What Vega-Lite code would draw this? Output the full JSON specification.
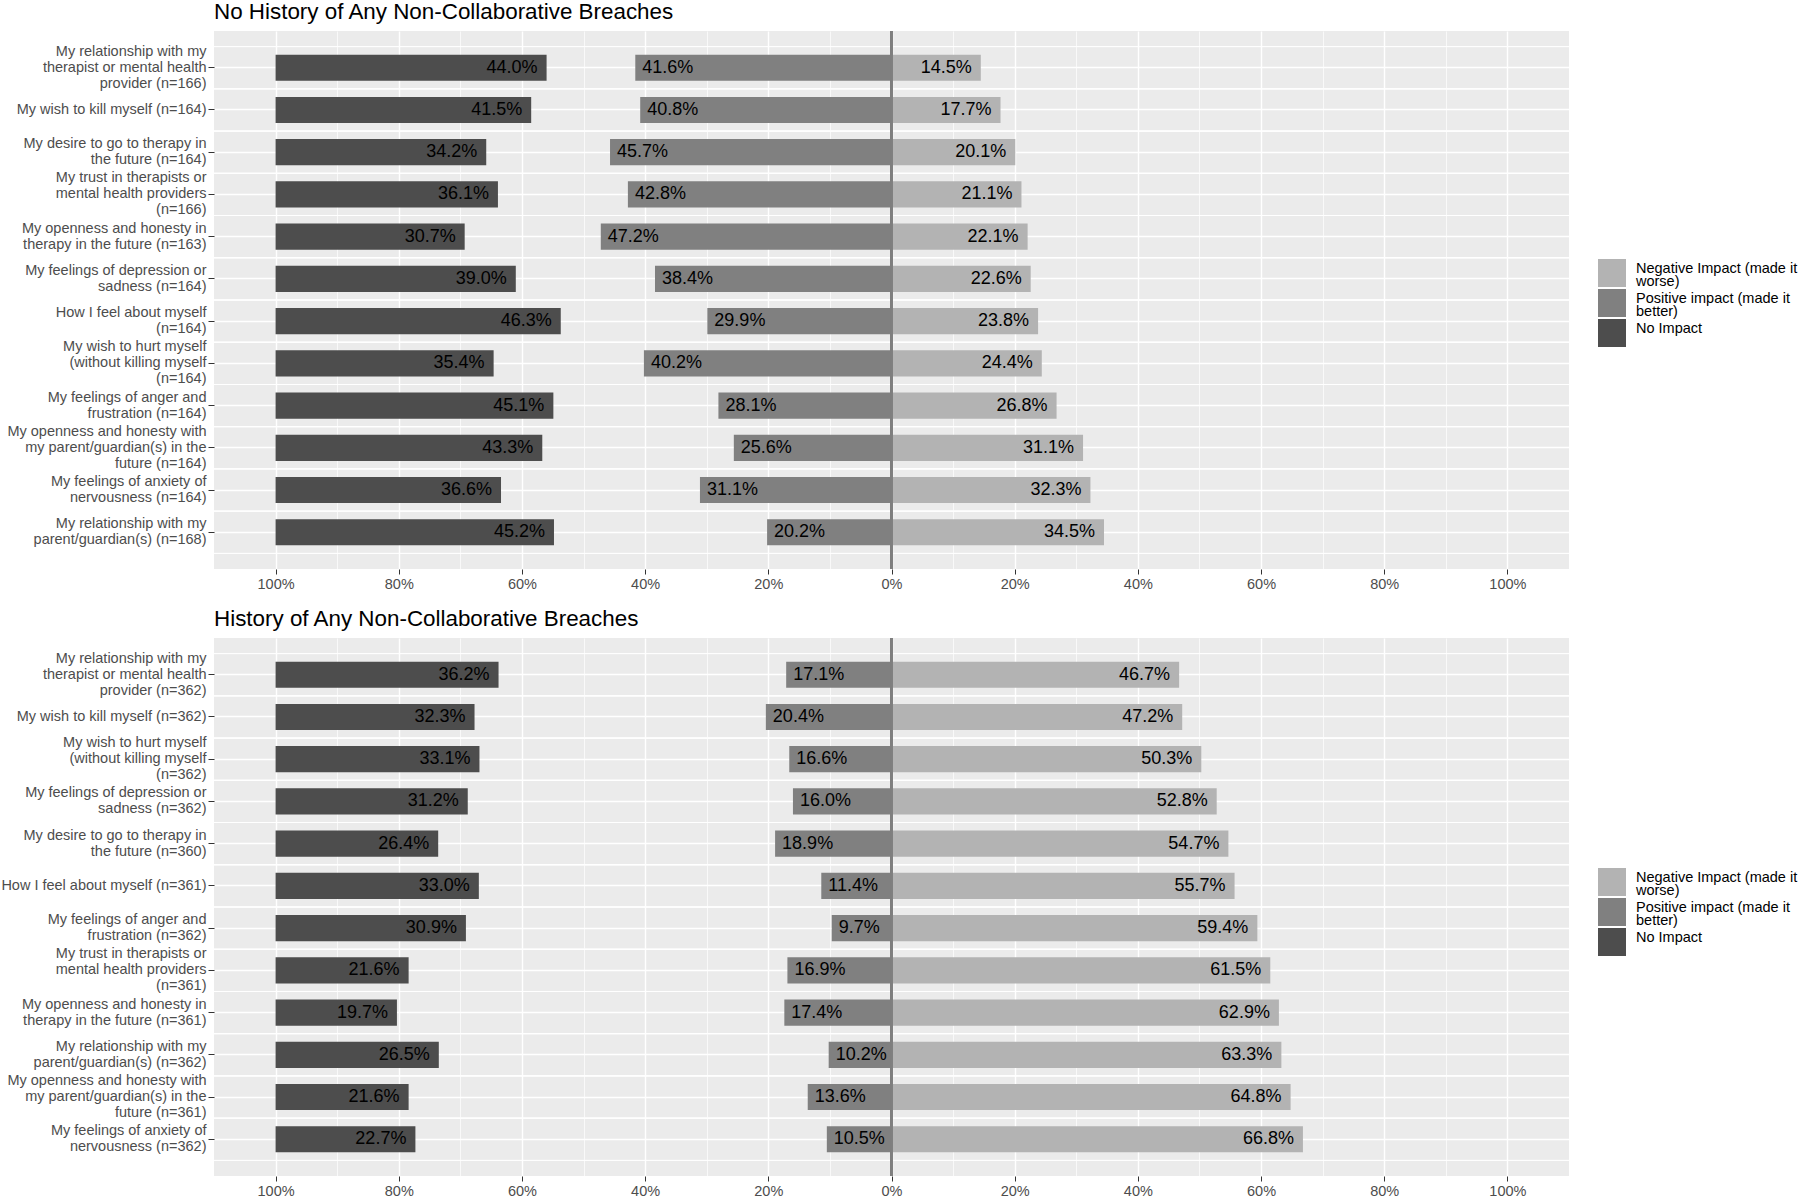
{
  "$schema": "https://vega.github.io/schema/vega-lite/v6.json",
  "padding": {"left": 0, "top": 0, "right": 0, "bottom": 0},
  "background": "white",
  "config": {
    "font": "Liberation Sans",
    "view": {"fill": "#EBEBEB", "stroke": null},
    "axis": {"domain": false, "labelFont": "Liberation Sans", "labelColor": "#4D4D4D", "tickColor": "#333333", "gridColor": "#FFFFFF"},
    "style": {"guide-label": {"lineHeight": 13}},
    "title": {"font": "Liberation Sans", "fontSize": 22.4, "fontWeight": "normal", "color": "#000000", "anchor": "start", "frame": "group", "offset": 7}
  },
  "datasets": {
    "rows": [
      {"p":"A","r":1,"item":"My relationship with my|therapist or mental health|provider  (n=166)","cat":"No Impact","v":44.0},
      {"p":"A","r":1,"item":"My relationship with my|therapist or mental health|provider  (n=166)","cat":"Positive impact (made it|better)","v":41.6},
      {"p":"A","r":1,"item":"My relationship with my|therapist or mental health|provider  (n=166)","cat":"Negative Impact (made it|worse)","v":14.5},
      {"p":"A","r":2,"item":"My wish to kill myself (n=164)","cat":"No Impact","v":41.5},
      {"p":"A","r":2,"item":"My wish to kill myself (n=164)","cat":"Positive impact (made it|better)","v":40.8},
      {"p":"A","r":2,"item":"My wish to kill myself (n=164)","cat":"Negative Impact (made it|worse)","v":17.7},
      {"p":"A","r":3,"item":"My desire to go to therapy in|the future (n=164)","cat":"No Impact","v":34.2},
      {"p":"A","r":3,"item":"My desire to go to therapy in|the future (n=164)","cat":"Positive impact (made it|better)","v":45.7},
      {"p":"A","r":3,"item":"My desire to go to therapy in|the future (n=164)","cat":"Negative Impact (made it|worse)","v":20.1},
      {"p":"A","r":4,"item":"My trust in therapists or|mental health providers|(n=166)","cat":"No Impact","v":36.1},
      {"p":"A","r":4,"item":"My trust in therapists or|mental health providers|(n=166)","cat":"Positive impact (made it|better)","v":42.8},
      {"p":"A","r":4,"item":"My trust in therapists or|mental health providers|(n=166)","cat":"Negative Impact (made it|worse)","v":21.1},
      {"p":"A","r":5,"item":"My openness and honesty in|therapy in the future (n=163)","cat":"No Impact","v":30.7},
      {"p":"A","r":5,"item":"My openness and honesty in|therapy in the future (n=163)","cat":"Positive impact (made it|better)","v":47.2},
      {"p":"A","r":5,"item":"My openness and honesty in|therapy in the future (n=163)","cat":"Negative Impact (made it|worse)","v":22.1},
      {"p":"A","r":6,"item":"My feelings of depression or|sadness (n=164)","cat":"No Impact","v":39.0},
      {"p":"A","r":6,"item":"My feelings of depression or|sadness (n=164)","cat":"Positive impact (made it|better)","v":38.4},
      {"p":"A","r":6,"item":"My feelings of depression or|sadness (n=164)","cat":"Negative Impact (made it|worse)","v":22.6},
      {"p":"A","r":7,"item":"How I feel about myself|(n=164)","cat":"No Impact","v":46.3},
      {"p":"A","r":7,"item":"How I feel about myself|(n=164)","cat":"Positive impact (made it|better)","v":29.9},
      {"p":"A","r":7,"item":"How I feel about myself|(n=164)","cat":"Negative Impact (made it|worse)","v":23.8},
      {"p":"A","r":8,"item":"My wish to hurt myself|(without killing myself|(n=164)","cat":"No Impact","v":35.4},
      {"p":"A","r":8,"item":"My wish to hurt myself|(without killing myself|(n=164)","cat":"Positive impact (made it|better)","v":40.2},
      {"p":"A","r":8,"item":"My wish to hurt myself|(without killing myself|(n=164)","cat":"Negative Impact (made it|worse)","v":24.4},
      {"p":"A","r":9,"item":"My feelings of anger and|frustration (n=164)","cat":"No Impact","v":45.1},
      {"p":"A","r":9,"item":"My feelings of anger and|frustration (n=164)","cat":"Positive impact (made it|better)","v":28.1},
      {"p":"A","r":9,"item":"My feelings of anger and|frustration (n=164)","cat":"Negative Impact (made it|worse)","v":26.8},
      {"p":"A","r":10,"item":"My openness and honesty with|my parent/guardian(s) in the|future (n=164)","cat":"No Impact","v":43.3},
      {"p":"A","r":10,"item":"My openness and honesty with|my parent/guardian(s) in the|future (n=164)","cat":"Positive impact (made it|better)","v":25.6},
      {"p":"A","r":10,"item":"My openness and honesty with|my parent/guardian(s) in the|future (n=164)","cat":"Negative Impact (made it|worse)","v":31.1},
      {"p":"A","r":11,"item":"My feelings of anxiety of|nervousness  (n=164)","cat":"No Impact","v":36.6},
      {"p":"A","r":11,"item":"My feelings of anxiety of|nervousness  (n=164)","cat":"Positive impact (made it|better)","v":31.1},
      {"p":"A","r":11,"item":"My feelings of anxiety of|nervousness  (n=164)","cat":"Negative Impact (made it|worse)","v":32.3},
      {"p":"A","r":12,"item":"My relationship with my|parent/guardian(s) (n=168)","cat":"No Impact","v":45.2},
      {"p":"A","r":12,"item":"My relationship with my|parent/guardian(s) (n=168)","cat":"Positive impact (made it|better)","v":20.2},
      {"p":"A","r":12,"item":"My relationship with my|parent/guardian(s) (n=168)","cat":"Negative Impact (made it|worse)","v":34.5},

      {"p":"B","r":1,"item":"My relationship with my|therapist or mental health|provider  (n=362)","cat":"No Impact","v":36.2},
      {"p":"B","r":1,"item":"My relationship with my|therapist or mental health|provider  (n=362)","cat":"Positive impact (made it|better)","v":17.1},
      {"p":"B","r":1,"item":"My relationship with my|therapist or mental health|provider  (n=362)","cat":"Negative Impact (made it|worse)","v":46.7},
      {"p":"B","r":2,"item":"My wish to kill myself (n=362)","cat":"No Impact","v":32.3},
      {"p":"B","r":2,"item":"My wish to kill myself (n=362)","cat":"Positive impact (made it|better)","v":20.4},
      {"p":"B","r":2,"item":"My wish to kill myself (n=362)","cat":"Negative Impact (made it|worse)","v":47.2},
      {"p":"B","r":3,"item":"My wish to hurt myself|(without killing myself|(n=362)","cat":"No Impact","v":33.1},
      {"p":"B","r":3,"item":"My wish to hurt myself|(without killing myself|(n=362)","cat":"Positive impact (made it|better)","v":16.6},
      {"p":"B","r":3,"item":"My wish to hurt myself|(without killing myself|(n=362)","cat":"Negative Impact (made it|worse)","v":50.3},
      {"p":"B","r":4,"item":"My feelings of depression or|sadness (n=362)","cat":"No Impact","v":31.2},
      {"p":"B","r":4,"item":"My feelings of depression or|sadness (n=362)","cat":"Positive impact (made it|better)","v":16.0},
      {"p":"B","r":4,"item":"My feelings of depression or|sadness (n=362)","cat":"Negative Impact (made it|worse)","v":52.8},
      {"p":"B","r":5,"item":"My desire to go to therapy in|the future (n=360)","cat":"No Impact","v":26.4},
      {"p":"B","r":5,"item":"My desire to go to therapy in|the future (n=360)","cat":"Positive impact (made it|better)","v":18.9},
      {"p":"B","r":5,"item":"My desire to go to therapy in|the future (n=360)","cat":"Negative Impact (made it|worse)","v":54.7},
      {"p":"B","r":6,"item":"How I feel about myself (n=361)","cat":"No Impact","v":33.0},
      {"p":"B","r":6,"item":"How I feel about myself (n=361)","cat":"Positive impact (made it|better)","v":11.4},
      {"p":"B","r":6,"item":"How I feel about myself (n=361)","cat":"Negative Impact (made it|worse)","v":55.7},
      {"p":"B","r":7,"item":"My feelings of anger and|frustration  (n=362)","cat":"No Impact","v":30.9},
      {"p":"B","r":7,"item":"My feelings of anger and|frustration  (n=362)","cat":"Positive impact (made it|better)","v":9.7},
      {"p":"B","r":7,"item":"My feelings of anger and|frustration  (n=362)","cat":"Negative Impact (made it|worse)","v":59.4},
      {"p":"B","r":8,"item":"My trust in therapists or|mental health providers|(n=361)","cat":"No Impact","v":21.6},
      {"p":"B","r":8,"item":"My trust in therapists or|mental health providers|(n=361)","cat":"Positive impact (made it|better)","v":16.9},
      {"p":"B","r":8,"item":"My trust in therapists or|mental health providers|(n=361)","cat":"Negative Impact (made it|worse)","v":61.5},
      {"p":"B","r":9,"item":"My openness and honesty in|therapy in the future (n=361)","cat":"No Impact","v":19.7},
      {"p":"B","r":9,"item":"My openness and honesty in|therapy in the future (n=361)","cat":"Positive impact (made it|better)","v":17.4},
      {"p":"B","r":9,"item":"My openness and honesty in|therapy in the future (n=361)","cat":"Negative Impact (made it|worse)","v":62.9},
      {"p":"B","r":10,"item":"My relationship with my|parent/guardian(s) (n=362)","cat":"No Impact","v":26.5},
      {"p":"B","r":10,"item":"My relationship with my|parent/guardian(s) (n=362)","cat":"Positive impact (made it|better)","v":10.2},
      {"p":"B","r":10,"item":"My relationship with my|parent/guardian(s) (n=362)","cat":"Negative Impact (made it|worse)","v":63.3},
      {"p":"B","r":11,"item":"My openness and honesty with|my parent/guardian(s) in the|future (n=361)","cat":"No Impact","v":21.6},
      {"p":"B","r":11,"item":"My openness and honesty with|my parent/guardian(s) in the|future (n=361)","cat":"Positive impact (made it|better)","v":13.6},
      {"p":"B","r":11,"item":"My openness and honesty with|my parent/guardian(s) in the|future (n=361)","cat":"Negative Impact (made it|worse)","v":64.8},
      {"p":"B","r":12,"item":"My feelings of anxiety of|nervousness  (n=362)","cat":"No Impact","v":22.7},
      {"p":"B","r":12,"item":"My feelings of anxiety of|nervousness  (n=362)","cat":"Positive impact (made it|better)","v":10.5},
      {"p":"B","r":12,"item":"My feelings of anxiety of|nervousness  (n=362)","cat":"Negative Impact (made it|worse)","v":66.8}
    ]
  },
  "vconcat": [
    {
      "title": {"text": "No History of Any Non-Collaborative Breaches"},
      "width": 1355,
      "height": 538,
      "data": {"name": "rows"},
      "transform": [
        {"filter": "datum.p === 'A'"},
        {"calculate": "datum.cat === 'No Impact' ? -100 : (datum.cat === 'Positive impact (made it|better)' ? -datum.v : 0)", "as": "x0"},
        {"calculate": "datum.cat === 'No Impact' ? -100 + datum.v : (datum.cat === 'Positive impact (made it|better)' ? 0 : datum.v)", "as": "x1"},
        {"calculate": "format(datum.v, '.1f') + '%'", "as": "txt"}
      ],
      "layer": [
        {
          "mark": {"type": "rule", "color": "#FFFFFF", "strokeWidth": 0.7},
          "encoding": {
            "y": {"field": "item", "type": "nominal", "bandPosition": 0, "sort": {"field": "r", "op": "min"}, "scale": {"paddingInner": 0, "paddingOuter": 0.37},
              "axis": {"title": null, "labelExpr": "split(datum.label, '|')", "labelOffset": {"condition": [{"test": "length(split(datum.value, '|')) === 3", "value": -16}, {"test": "length(split(datum.value, '|')) === 2", "value": -8}], "value": 0}, "bandPosition": 0.5, "grid": true, "gridWidth": 1.4, "tickSize": 6, "labelPadding": 2, "labelFontSize": 14.5, "labelLineHeight": 16, "labelLimit": 400}}
          }
        },
        {
          "mark": {"type": "rule", "color": "#FFFFFF", "strokeWidth": 0.7},
          "encoding": {
            "y": {"field": "item", "type": "nominal", "bandPosition": 1, "sort": {"field": "r", "op": "min"},
              "axis": {"title": null, "labelExpr": "split(datum.label, '|')", "labelOffset": {"condition": [{"test": "length(split(datum.value, '|')) === 3", "value": -16}, {"test": "length(split(datum.value, '|')) === 2", "value": -8}], "value": 0}, "bandPosition": 0.5, "grid": true, "gridWidth": 1.4, "tickSize": 6, "labelPadding": 2, "labelFontSize": 14.5, "labelLineHeight": 16, "labelLimit": 400}}
          }
        },
        {
          "mark": {"type": "bar", "height": {"band": 0.62}},
          "encoding": {
            "y": {"field": "item", "type": "nominal", "sort": {"field": "r", "op": "min"},
              "axis": {"title": null, "labelExpr": "split(datum.label, '|')", "labelOffset": {"condition": [{"test": "length(split(datum.value, '|')) === 3", "value": -16}, {"test": "length(split(datum.value, '|')) === 2", "value": -8}], "value": 0}, "bandPosition": 0.5, "grid": true, "gridWidth": 1.4, "tickSize": 6, "labelPadding": 2, "labelFontSize": 14.5, "labelLineHeight": 16, "labelLimit": 400}},
            "x": {"field": "x0", "type": "quantitative", "scale": {"domain": [-110, 110], "nice": false, "zero": false},
              "axis": {"title": null, "values": [-100,-90,-80,-70,-60,-50,-40,-30,-20,-10,0,10,20,30,40,50,60,70,80,90,100], "labelExpr": "datum.value % 20 === 0 ? format(abs(datum.value) / 100, '.0%') : ''", "grid": true, "gridWidth": {"condition": {"test": "datum.value % 20 === 0", "value": 1.4}, "value": 0.7}, "tickOpacity": {"condition": {"test": "datum.value % 20 === 0", "value": 1}, "value": 0}, "tickSize": 5, "labelPadding": 3, "labelFontSize": 14.5, "labelOverlap": false, "labelFlush": false}},
            "x2": {"field": "x1"},
            "color": {"field": "cat", "type": "nominal",
              "scale": {"domain": ["Negative Impact (made it|worse)", "Positive impact (made it|better)", "No Impact"], "range": ["#B3B3B3", "#808080", "#4D4D4D"]},
              "legend": {"title": null, "orient": "none", "legendX": 1384, "legendY": 228, "symbolType": "square", "symbolSize": 784, "symbolStrokeWidth": 0, "labelFontSize": 14.5, "labelColor": "#000000", "labelBaseline": "alphabetic", "labelExpr": "split(datum.label, '|')", "labelOffset": 10, "labelLimit": 300, "rowPadding": -1, "padding": 0}}
          }
        },
        {
          "mark": {"type": "rule", "color": "#7F7F7F", "strokeWidth": 1.6},
          "encoding": {"x": {"datum": 0, "type": "quantitative"}}
        },
        {
          "transform": [{"filter": "datum.cat === 'Positive impact (made it|better)'"}],
          "mark": {"type": "text", "align": "left", "baseline": "middle", "dx": 7, "fontSize": 18, "color": "#000000"},
          "encoding": {
            "y": {"field": "item", "type": "nominal", "sort": {"field": "r", "op": "min"},
              "axis": {"title": null, "labelExpr": "split(datum.label, '|')", "labelOffset": {"condition": [{"test": "length(split(datum.value, '|')) === 3", "value": -16}, {"test": "length(split(datum.value, '|')) === 2", "value": -8}], "value": 0}, "bandPosition": 0.5, "grid": true, "gridWidth": 1.4, "tickSize": 6, "labelPadding": 2, "labelFontSize": 14.5, "labelLineHeight": 16, "labelLimit": 400}},
            "x": {"field": "x0", "type": "quantitative"},
            "text": {"field": "txt"}
          }
        },
        {
          "transform": [{"filter": "datum.cat !== 'Positive impact (made it|better)'"}],
          "mark": {"type": "text", "align": "right", "baseline": "middle", "dx": -9, "fontSize": 18, "color": "#000000"},
          "encoding": {
            "y": {"field": "item", "type": "nominal", "sort": {"field": "r", "op": "min"},
              "axis": {"title": null, "labelExpr": "split(datum.label, '|')", "labelOffset": {"condition": [{"test": "length(split(datum.value, '|')) === 3", "value": -16}, {"test": "length(split(datum.value, '|')) === 2", "value": -8}], "value": 0}, "bandPosition": 0.5, "grid": true, "gridWidth": 1.4, "tickSize": 6, "labelPadding": 2, "labelFontSize": 14.5, "labelLineHeight": 16, "labelLimit": 400}},
            "x": {"field": "x1", "type": "quantitative"},
            "text": {"field": "txt"}
          }
        }
      ]
    },
    {
      "title": {"text": "History of Any Non-Collaborative Breaches"},
      "width": 1355,
      "height": 538,
      "data": {"name": "rows"},
      "transform": [
        {"filter": "datum.p === 'B'"},
        {"calculate": "datum.cat === 'No Impact' ? -100 : (datum.cat === 'Positive impact (made it|better)' ? -datum.v : 0)", "as": "x0"},
        {"calculate": "datum.cat === 'No Impact' ? -100 + datum.v : (datum.cat === 'Positive impact (made it|better)' ? 0 : datum.v)", "as": "x1"},
        {"calculate": "format(datum.v, '.1f') + '%'", "as": "txt"}
      ],
      "layer": [
        {
          "mark": {"type": "rule", "color": "#FFFFFF", "strokeWidth": 0.7},
          "encoding": {
            "y": {"field": "item", "type": "nominal", "bandPosition": 0, "sort": {"field": "r", "op": "min"}, "scale": {"paddingInner": 0, "paddingOuter": 0.37},
              "axis": {"title": null, "labelExpr": "split(datum.label, '|')", "labelOffset": {"condition": [{"test": "length(split(datum.value, '|')) === 3", "value": -16}, {"test": "length(split(datum.value, '|')) === 2", "value": -8}], "value": 0}, "bandPosition": 0.5, "grid": true, "gridWidth": 1.4, "tickSize": 6, "labelPadding": 2, "labelFontSize": 14.5, "labelLineHeight": 16, "labelLimit": 400}}
          }
        },
        {
          "mark": {"type": "rule", "color": "#FFFFFF", "strokeWidth": 0.7},
          "encoding": {
            "y": {"field": "item", "type": "nominal", "bandPosition": 1, "sort": {"field": "r", "op": "min"},
              "axis": {"title": null, "labelExpr": "split(datum.label, '|')", "labelOffset": {"condition": [{"test": "length(split(datum.value, '|')) === 3", "value": -16}, {"test": "length(split(datum.value, '|')) === 2", "value": -8}], "value": 0}, "bandPosition": 0.5, "grid": true, "gridWidth": 1.4, "tickSize": 6, "labelPadding": 2, "labelFontSize": 14.5, "labelLineHeight": 16, "labelLimit": 400}}
          }
        },
        {
          "mark": {"type": "bar", "height": {"band": 0.62}},
          "encoding": {
            "y": {"field": "item", "type": "nominal", "sort": {"field": "r", "op": "min"},
              "axis": {"title": null, "labelExpr": "split(datum.label, '|')", "labelOffset": {"condition": [{"test": "length(split(datum.value, '|')) === 3", "value": -16}, {"test": "length(split(datum.value, '|')) === 2", "value": -8}], "value": 0}, "bandPosition": 0.5, "grid": true, "gridWidth": 1.4, "tickSize": 6, "labelPadding": 2, "labelFontSize": 14.5, "labelLineHeight": 16, "labelLimit": 400}},
            "x": {"field": "x0", "type": "quantitative", "scale": {"domain": [-110, 110], "nice": false, "zero": false},
              "axis": {"title": null, "values": [-100,-90,-80,-70,-60,-50,-40,-30,-20,-10,0,10,20,30,40,50,60,70,80,90,100], "labelExpr": "datum.value % 20 === 0 ? format(abs(datum.value) / 100, '.0%') : ''", "grid": true, "gridWidth": {"condition": {"test": "datum.value % 20 === 0", "value": 1.4}, "value": 0.7}, "tickOpacity": {"condition": {"test": "datum.value % 20 === 0", "value": 1}, "value": 0}, "tickSize": 5, "labelPadding": 3, "labelFontSize": 14.5, "labelOverlap": false, "labelFlush": false}},
            "x2": {"field": "x1"},
            "color": {"field": "cat", "type": "nominal",
              "scale": {"domain": ["Negative Impact (made it|worse)", "Positive impact (made it|better)", "No Impact"], "range": ["#B3B3B3", "#808080", "#4D4D4D"]},
              "legend": {"title": null, "orient": "none", "legendX": 1384, "legendY": 230, "symbolType": "square", "symbolSize": 784, "symbolStrokeWidth": 0, "labelFontSize": 14.5, "labelColor": "#000000", "labelBaseline": "alphabetic", "labelExpr": "split(datum.label, '|')", "labelOffset": 10, "labelLimit": 300, "rowPadding": -1, "padding": 0}}
          }
        },
        {
          "mark": {"type": "rule", "color": "#7F7F7F", "strokeWidth": 1.6},
          "encoding": {"x": {"datum": 0, "type": "quantitative"}}
        },
        {
          "transform": [{"filter": "datum.cat === 'Positive impact (made it|better)'"}],
          "mark": {"type": "text", "align": "left", "baseline": "middle", "dx": 7, "fontSize": 18, "color": "#000000"},
          "encoding": {
            "y": {"field": "item", "type": "nominal", "sort": {"field": "r", "op": "min"},
              "axis": {"title": null, "labelExpr": "split(datum.label, '|')", "labelOffset": {"condition": [{"test": "length(split(datum.value, '|')) === 3", "value": -16}, {"test": "length(split(datum.value, '|')) === 2", "value": -8}], "value": 0}, "bandPosition": 0.5, "grid": true, "gridWidth": 1.4, "tickSize": 6, "labelPadding": 2, "labelFontSize": 14.5, "labelLineHeight": 16, "labelLimit": 400}},
            "x": {"field": "x0", "type": "quantitative"},
            "text": {"field": "txt"}
          }
        },
        {
          "transform": [{"filter": "datum.cat !== 'Positive impact (made it|better)'"}],
          "mark": {"type": "text", "align": "right", "baseline": "middle", "dx": -9, "fontSize": 18, "color": "#000000"},
          "encoding": {
            "y": {"field": "item", "type": "nominal", "sort": {"field": "r", "op": "min"},
              "axis": {"title": null, "labelExpr": "split(datum.label, '|')", "labelOffset": {"condition": [{"test": "length(split(datum.value, '|')) === 3", "value": -16}, {"test": "length(split(datum.value, '|')) === 2", "value": -8}], "value": 0}, "bandPosition": 0.5, "grid": true, "gridWidth": 1.4, "tickSize": 6, "labelPadding": 2, "labelFontSize": 14.5, "labelLineHeight": 16, "labelLimit": 400}},
            "x": {"field": "x1", "type": "quantitative"},
            "text": {"field": "txt"}
          }
        }
      ]
    }
  ],
  "spacing": 16,
  "resolve": {"scale": {"y": "independent", "color": "independent"}, "legend": {"color": "independent"}}
}
